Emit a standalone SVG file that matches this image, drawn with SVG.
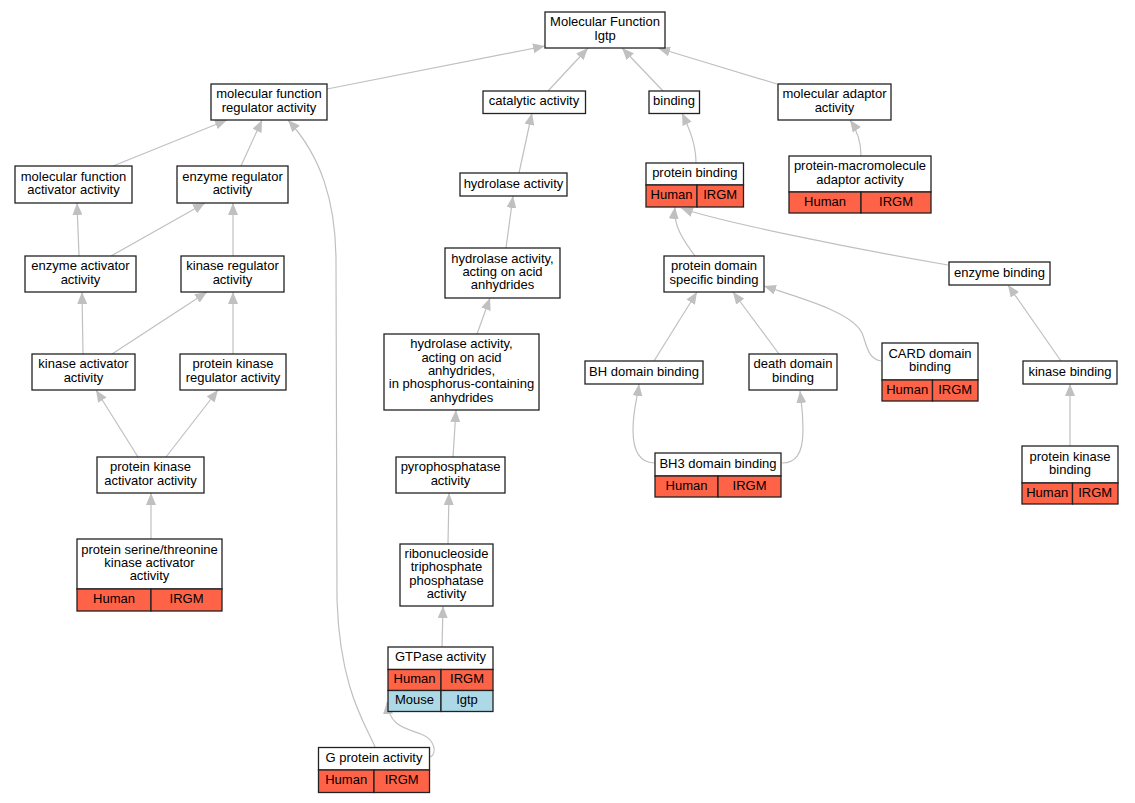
<svg xmlns="http://www.w3.org/2000/svg" width="1135" height="803" viewBox="0 0 1135 803">
<style>
.bg{fill:#fff}
.n rect{stroke:#222;stroke-width:1.3}
.w{fill:#fff}
.h{fill:#ff6347}
.m{fill:#add8e6}
text{font-family:"Liberation Sans",Arial,sans-serif;font-size:13px;fill:#000;text-anchor:middle}
.e path{fill:none;stroke:#c0c0c0;stroke-width:1.2;marker-end:url(#arr)}
</style>
<defs>
<marker id="arr" viewBox="0 0 12 10" refX="12" refY="5" markerWidth="12" markerHeight="10" markerUnits="userSpaceOnUse" orient="auto">
<path d="M0,0 L12,5 L0,10 z" fill="#c0c0c0"/>
</marker>
</defs>
<rect class="bg" x="0" y="0" width="1135" height="803"/>
<g id="connectors" class="e">
<path d="M327,89 L545,46"/>
<path d="M548,91 L588,48"/>
<path d="M663,91 L622,48"/>
<path d="M777,84 L658,48"/>
<path d="M113,166 L227,120"/>
<path d="M241,166 L262,120"/>
<path d="M375,747 C366,725 340,690 337,600 L336,262 C336,200 320,155 288,120"/>
<path d="M79,256 L77,203"/>
<path d="M111,256 L205,203"/>
<path d="M233,256 L233,203"/>
<path d="M83,354 L82,292"/>
<path d="M112,354 L207,292"/>
<path d="M233,354 L233,292"/>
<path d="M138,457 L96,390"/>
<path d="M166,457 L218,390"/>
<path d="M151,539 L151,493"/>
<path d="M519,173 L532,113"/>
<path d="M506,248 L513,196"/>
<path d="M477,334 L490,298"/>
<path d="M453,457 L456,410"/>
<path d="M448,544 L449,493"/>
<path d="M442,647 L443,606"/>
<path d="M430,757 C437,754 436,740 421,734 C405,728 389,726 387,702"/>
<path d="M696,163 C696,145 690,130 682,113"/>
<path d="M861,156 C861,143 857,130 850,120"/>
<path d="M695,256 C683,240 673,225 675,207"/>
<path d="M948,265 C860,250 720,222 681,208"/>
<path d="M654,361 L697,292"/>
<path d="M779,354 L733,292"/>
<path d="M881,361 C867,358 867,345 862,333 C852,312 800,298 764,286"/>
<path d="M1061,361 L1008,285"/>
<path d="M1070,446 L1070,384"/>
<path d="M655,463 C640,463 633,452 633,430 C633,410 637,400 639,384"/>
<path d="M782,463 C795,463 803,455 803,430 C803,410 801,400 800,391"/>
</g>
<g id="n_mf" class="n"><rect class="w" x="545" y="12" width="120" height="36"/><text x="605" y="26.3">Molecular Function</text><text x="605" y="39.7">Igtp</text></g>
<g id="n_mfreg" class="n"><rect class="w" x="211" y="84" width="116" height="36"/><text x="269" y="98.3">molecular function</text><text x="269" y="111.7">regulator activity</text></g>
<g id="n_catalytic" class="n"><rect class="w" x="483" y="91" width="102.5" height="22.5"/><text x="534" y="105.2">catalytic activity</text></g>
<g id="n_binding" class="n"><rect class="w" x="649" y="91" width="50.5" height="22.5"/><text x="674" y="105.2">binding</text></g>
<g id="n_adaptor" class="n"><rect class="w" x="778" y="84" width="113" height="36"/><text x="834.5" y="98.3">molecular adaptor</text><text x="834.5" y="111.7">activity</text></g>
<g id="n_mfact" class="n"><rect class="w" x="15" y="166" width="117" height="37"/><text x="73.5" y="180.8">molecular function</text><text x="73.5" y="194.2">activator activity</text></g>
<g id="n_enzreg" class="n"><rect class="w" x="177" y="166" width="111" height="37"/><text x="232.5" y="180.8">enzyme regulator</text><text x="232.5" y="194.2">activity</text></g>
<g id="n_hydrolase" class="n"><rect class="w" x="460" y="173" width="107" height="23"/><text x="513.5" y="187.5">hydrolase activity</text></g>
<g id="n_protbind" class="n"><rect class="w" x="646" y="163" width="97.5" height="22"/><rect class="h" x="646" y="185" width="51" height="22"/><rect class="h" x="697" y="185" width="46.5" height="22"/><text x="694.8" y="177">protein binding</text><text x="671.5" y="199">Human</text><text x="720.2" y="199">IRGM</text></g>
<g id="n_protmacro" class="n"><rect class="w" x="789" y="156" width="142" height="36"/><rect class="h" x="789" y="192" width="72" height="21"/><rect class="h" x="861" y="192" width="70" height="21"/><text x="860" y="170.3">protein-macromolecule</text><text x="860" y="183.7">adaptor activity</text><text x="825" y="205.5">Human</text><text x="896" y="205.5">IRGM</text></g>
<g id="n_enzact" class="n"><rect class="w" x="25" y="256" width="111" height="36"/><text x="80.5" y="270.3">enzyme activator</text><text x="80.5" y="283.7">activity</text></g>
<g id="n_kinreg" class="n"><rect class="w" x="181" y="256" width="103" height="36"/><text x="232.5" y="270.3">kinase regulator</text><text x="232.5" y="283.7">activity</text></g>
<g id="n_anhydrides" class="n"><rect class="w" x="445" y="248" width="115" height="50"/><text x="502.5" y="262.6">hydrolase activity,</text><text x="502.5" y="276">acting on acid</text><text x="502.5" y="289.4">anhydrides</text></g>
<g id="n_protdomain" class="n"><rect class="w" x="664" y="256" width="100" height="36"/><text x="714" y="270.3">protein domain</text><text x="714" y="283.7">specific binding</text></g>
<g id="n_enzbind" class="n"><rect class="w" x="949" y="262" width="101" height="23"/><text x="999.5" y="276.5">enzyme binding</text></g>
<g id="n_phosphorus" class="n"><rect class="w" x="384" y="334" width="155" height="76"/><text x="461.5" y="348.2">hydrolase activity,</text><text x="461.5" y="361.6">acting on acid</text><text x="461.5" y="375">anhydrides,</text><text x="461.5" y="388.4">in phosphorus-containing</text><text x="461.5" y="401.8">anhydrides</text></g>
<g id="n_kinact" class="n"><rect class="w" x="32" y="354" width="103" height="36"/><text x="83.5" y="368.3">kinase activator</text><text x="83.5" y="381.7">activity</text></g>
<g id="n_pkreg" class="n"><rect class="w" x="180" y="354" width="106" height="36"/><text x="233" y="368.3">protein kinase</text><text x="233" y="381.7">regulator activity</text></g>
<g id="n_bh" class="n"><rect class="w" x="585" y="361" width="118" height="23"/><text x="644" y="375.5">BH domain binding</text></g>
<g id="n_death" class="n"><rect class="w" x="749" y="354" width="88" height="36"/><text x="793" y="368.3">death domain</text><text x="793" y="381.7">binding</text></g>
<g id="n_card" class="n"><rect class="w" x="882" y="343" width="96" height="37"/><rect class="h" x="882" y="380" width="50.5" height="21"/><rect class="h" x="932.5" y="380" width="45.5" height="21"/><text x="930" y="357.8">CARD domain</text><text x="930" y="371.2">binding</text><text x="907.2" y="393.5">Human</text><text x="955.2" y="393.5">IRGM</text></g>
<g id="n_kinbind" class="n"><rect class="w" x="1023" y="361" width="94" height="23"/><text x="1070" y="375.5">kinase binding</text></g>
<g id="n_pkact" class="n"><rect class="w" x="97" y="457" width="107" height="36"/><text x="150.5" y="471.3">protein kinase</text><text x="150.5" y="484.7">activator activity</text></g>
<g id="n_pyro" class="n"><rect class="w" x="396" y="457" width="109" height="36"/><text x="450.5" y="471.3">pyrophosphatase</text><text x="450.5" y="484.7">activity</text></g>
<g id="n_bh3" class="n"><rect class="w" x="655" y="453" width="126" height="23"/><rect class="h" x="655" y="476" width="63" height="21"/><rect class="h" x="718" y="476" width="63" height="21"/><text x="718" y="467.5">BH3 domain binding</text><text x="686.5" y="489.5">Human</text><text x="749.5" y="489.5">IRGM</text></g>
<g id="n_pkbind" class="n"><rect class="w" x="1022" y="446" width="96" height="37"/><rect class="h" x="1022" y="483" width="50.5" height="21"/><rect class="h" x="1072.5" y="483" width="45.5" height="21"/><text x="1070" y="460.8">protein kinase</text><text x="1070" y="474.2">binding</text><text x="1047.2" y="496.5">Human</text><text x="1095.2" y="496.5">IRGM</text></g>
<g id="n_serthr" class="n"><rect class="w" x="77" y="539" width="145" height="50"/><rect class="h" x="77" y="589" width="74" height="22"/><rect class="h" x="151" y="589" width="71" height="22"/><text x="149.5" y="553.6">protein serine/threonine</text><text x="149.5" y="567">kinase activator</text><text x="149.5" y="580.4">activity</text><text x="114" y="603">Human</text><text x="186.5" y="603">IRGM</text></g>
<g id="n_ribo" class="n"><rect class="w" x="400" y="544" width="93" height="62"/><text x="446.5" y="557.9">ribonucleoside</text><text x="446.5" y="571.3">triphosphate</text><text x="446.5" y="584.7">phosphatase</text><text x="446.5" y="598.1">activity</text></g>
<g id="n_gtpase" class="n"><rect class="w" x="388" y="647" width="105" height="22.5"/><rect class="h" x="388" y="669.5" width="53" height="21"/><rect class="h" x="441" y="669.5" width="52" height="21"/><rect class="m" x="388" y="690.5" width="53" height="21"/><rect class="m" x="441" y="690.5" width="52" height="21"/><text x="440.5" y="661.2">GTPase activity</text><text x="414.5" y="683">Human</text><text x="467" y="683">IRGM</text><text x="414.5" y="704">Mouse</text><text x="467" y="704">Igtp</text></g>
<g id="n_gprot" class="n"><rect class="w" x="318.5" y="747.5" width="111" height="22.5"/><rect class="h" x="318.5" y="770" width="55.5" height="22.5"/><rect class="h" x="374" y="770" width="55.5" height="22.5"/><text x="374" y="761.7">G protein activity</text><text x="346.2" y="784.2">Human</text><text x="401.7" y="784.2">IRGM</text></g>
</svg>
